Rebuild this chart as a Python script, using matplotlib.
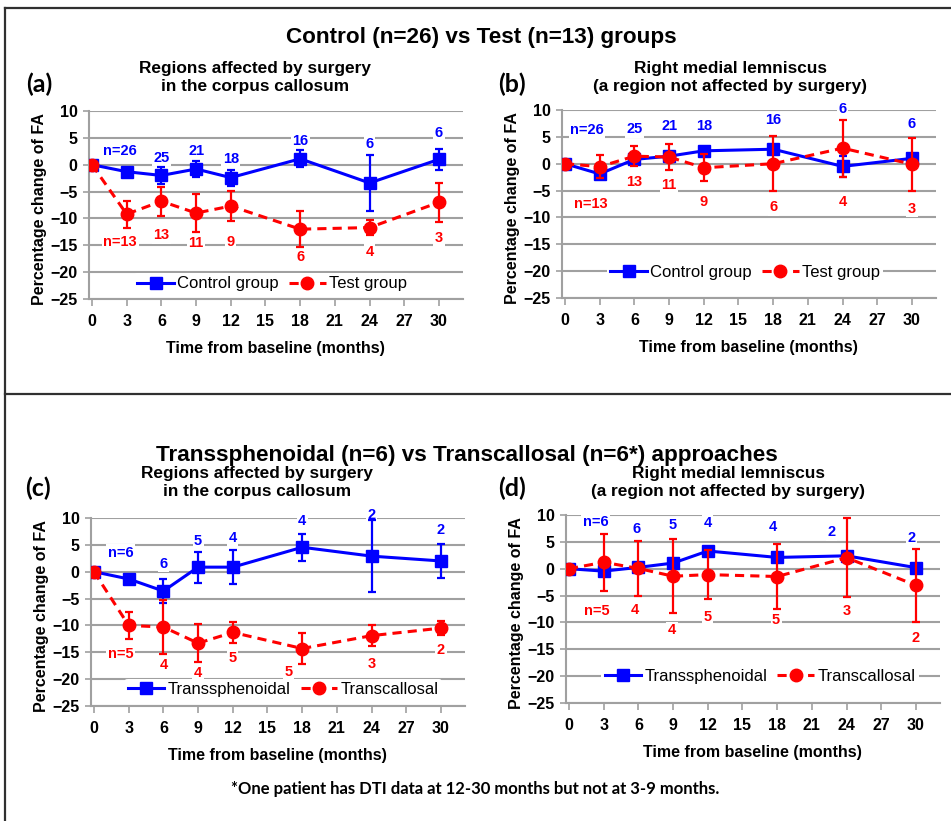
import matplotlib
matplotlib.use("Agg")
import matplotlib.pyplot as plt
from matplotlib.lines import Line2D

plt.rcParams['font.family'] = ['Liberation Sans', 'DejaVu Sans']

W, H = 951, 821

months = [0, 3, 6, 9, 12, 18, 24, 30]

# (a) corpus callosum, control vs test
a_ctrl = [0, -1.3, -2.0, -0.8, -2.4, 1.1, -3.4, 1.0]
a_ctrl_err = [0, 0.5, 1.5, 1.5, 1.5, 1.6, 5.2, 2.0]
a_test = [0, -9.2, -6.8, -9.0, -7.7, -12.0, -11.7, -7.0]
a_test_err = [0, 2.5, 2.7, 3.5, 2.8, 3.3, 1.4, 3.6]

# (b) right medial lemniscus, control vs test
b_ctrl = [0, -1.9, 0.8, 1.4, 2.4, 2.7, -0.5, 1.0]
b_ctrl_err = [0, 0.5, 0.8, 0.8, 0.8, 0.8, 1.9, 0.8]
b_test = [0, -0.55, 1.4, 1.25, -0.75, 0.0, 2.9, -0.1]
b_test_err = [0, 2.1, 1.9, 2.5, 2.5, 5.1, 5.3, 4.9]

# (c) corpus callosum, transsphenoidal vs transcallosal
c_trans = [0, -1.35, -3.6, 0.85, 0.85, 4.55, 2.9, 2.0]
c_trans_err = [0, 0.6, 2.2, 2.9, 3.2, 2.5, 6.7, 3.2]
c_call = [0, -10.0, -10.3, -13.3, -11.3, -14.3, -11.9, -10.5]
c_call_err = [0, 2.5, 5.0, 3.5, 2.0, 2.9, 1.9, 1.3]

# (d) right medial lemniscus, transsphenoidal vs transcallosal
d_trans = [0, -0.45, 0.25, 1.05, 3.3, 2.1, 2.4, 0.2]
d_trans_err = [0, 0.5, 0.5, 0.5, 0.5, 0.5, 0.5, 0.5]
d_call = [0, 1.2, 0.05, -1.4, -1.1, -1.45, 2.05, -3.1]
d_call_err = [0, 5.3, 5.2, 6.9, 4.5, 6.1, 7.3, 6.8]

# sample size labels (text, x, y)
a_ctrl_n = ['n=26', '25', '21', '18', '16', '6', '6']
a_ctrl_nx = [2.45, 6, 9, 12, 18, 24, 30]
a_ctrl_ny = [2.5, 1.3, 2.5, 1.0, 4.4, 3.8, 5.9]
a_test_n = ['n=13', '13', '11', '9', '6', '4', '3']
a_test_nx = [2.45, 6, 9, 12, 18, 24, 30]
a_test_ny = [-14.4, -13.1, -14.6, -14.3, -17.1, -16.2, -13.7]

b_ctrl_nx = [1.9, 6, 9, 12, 18, 24, 30]
b_ctrl_ny = [6.25, 6.4, 7.0, 7.0, 8.1, 10.2, 7.4]
b_test_nx = [2.2, 6, 9, 12, 18, 24, 30]
b_test_ny = [-7.5, -3.4, -3.9, -7.1, -8.1, -7.1, -8.4]

c_trans_n = ['n=6', '6', '5', '4', '4', '2', '2']
c_trans_nx = [2.3, 6, 9, 12, 18, 24, 30]
c_trans_ny = [3.5, 1.5, 5.7, 6.2, 9.4, 10.6, 7.8]
c_call_n = ['n=5', '4', '4', '5', '5', '3', '2']
c_call_nx = [2.3, 6, 9, 12, 16.8, 24, 30]
c_call_ny = [-15.4, -17.4, -18.9, -16.1, -18.6, -17.2, -14.6]

d_trans_nx = [2.3, 5.85, 9, 12, 17.6, 22.7, 29.6]
d_trans_ny = [8.7, 7.4, 8.1, 8.6, 7.7, 6.8, 5.8]
d_call_nx = [2.45, 5.7, 8.9, 12, 17.9, 24, 30]
d_call_ny = [-7.9, -7.75, -11.5, -8.9, -9.6, -7.9, -12.9]

BLUE = '#0000ff'
RED = '#ff0000'
GRID = '#a0a0a0'


def fx(x):
    return x / W


def fy(y):
    return 1 - y / H


fig = plt.figure(figsize=(W / 100, H / 100), dpi=100)


def panel(rect, y1, e1, y2, e2, n1, nx1, ny1, n2, nx2, ny2, names, leg_pos):
    ax = fig.add_axes(rect)
    ax.set_xlim(-0.3, 32.1)
    ax.set_ylim(-25, 10)
    ax.set_xticks(range(0, 31, 3))
    ax.set_yticks(range(-25, 11, 5))
    ax.yaxis.grid(True, color=GRID, lw=1.5)
    ax.set_axisbelow(True)
    for s in ['top', 'right']:
        ax.spines[s].set_visible(False)
    for s in ['left', 'bottom']:
        ax.spines[s].set_color(GRID)
        ax.spines[s].set_linewidth(1.5)
    ax.tick_params(axis='x', length=5, width=1.2, color=GRID, pad=6)
    ax.tick_params(axis='y', length=4, width=1.2, color=GRID, pad=4)
    for t in ax.get_xticklabels() + ax.get_yticklabels():
        t.set_fontweight('bold')
        t.set_fontsize(11.5)

    ax.errorbar(months, y1, yerr=e1, fmt='none', ecolor=BLUE, elinewidth=1.6,
                capsize=3, capthick=1.6, zorder=3)
    ax.plot(months, y1, color=BLUE, lw=2.2, marker='s', ms=9,
            label=names[0], zorder=4)
    ax.errorbar(months, y2, yerr=e2, fmt='none', ecolor=RED, elinewidth=1.6,
                capsize=3, capthick=1.6, zorder=5)
    ax.plot(months, y2, color=RED, lw=2.2, ls='--', dashes=(3, 2), marker='o',
            ms=9, label=names[1], zorder=6)

    for t, x, y in zip(n1, nx1, ny1):
        ax.text(x, y, t, color=BLUE, fontsize=10.5, fontweight='bold',
                ha='center', va='center', zorder=2,
                bbox=dict(facecolor='white', edgecolor='none', pad=1))
    for t, x, y in zip(n2, nx2, ny2):
        ax.text(x, y, t, color=RED, fontsize=10.5, fontweight='bold',
                ha='center', va='center', zorder=2,
                bbox=dict(facecolor='white', edgecolor='none', pad=1))

    leg = ax.legend(loc='center', bbox_to_anchor=leg_pos, ncol=2, frameon=True,
                    fontsize=12, handlelength=2.2, handletextpad=0.2,
                    columnspacing=0.6, borderpad=0.2, borderaxespad=0)
    leg.get_frame().set_facecolor('white')
    leg.get_frame().set_edgecolor('none')
    leg.get_frame().set_alpha(1)
    leg.set_zorder(7)

    ax.set_xlabel('Time from baseline (months)', fontsize=11.5, fontweight='bold')
    ax.set_ylabel('Percentage change of FA', fontsize=11.5, fontweight='bold')
    ax.xaxis.set_label_coords(0.5, -0.225)
    ax.yaxis.set_label_coords(-0.111, 0.48)
    return ax


ah = 188 / H
aw = 374.8 / W
panel([fx(88.5), fy(299), aw, ah], a_ctrl, a_ctrl_err, a_test, a_test_err,
      a_ctrl_n, a_ctrl_nx, a_ctrl_ny, a_test_n, a_test_nx, a_test_ny,
      ['Control group', 'Test group'], (0.49, 0.08))
panel([fx(561.5), fy(298), aw, ah], b_ctrl, b_ctrl_err, b_test, b_test_err,
      a_ctrl_n, b_ctrl_nx, b_ctrl_ny, a_test_n, b_test_nx, b_test_ny,
      ['Control group', 'Test group'], (0.49, 0.137))
panel([fx(90.5), fy(706), aw, ah], c_trans, c_trans_err, c_call, c_call_err,
      c_trans_n, c_trans_nx, c_trans_ny, c_call_n, c_call_nx, c_call_ny,
      ['Transsphenoidal', 'Transcallosal'], (0.514, 0.086))
panel([fx(565.5), fy(703), aw, ah], d_trans, d_trans_err, d_call, d_call_err,
      c_trans_n, d_trans_nx, d_trans_ny, c_call_n, d_call_nx, d_call_ny,
      ['Transsphenoidal', 'Transcallosal'], (0.519, 0.14))

# titles
fig.text(fx(481), fy(38), 'Control (n=26) vs Test (n=13) groups', fontsize=16.2,
         fontweight='bold', ha='center', va='center')
fig.text(fx(467), fy(455), 'Transsphenoidal (n=6) vs Transcallosal (n=6*) approaches',
         fontsize=16.2, fontweight='bold', ha='center', va='center')

subs = [(255, 77.5, 'Regions affected by surgery\nin the corpus callosum'),
        (730, 77.5, 'Right medial lemniscus\n(a region not affected by surgery)'),
        (257, 482.5, 'Regions affected by surgery\nin the corpus callosum'),
        (728, 482.5, 'Right medial lemniscus\n(a region not affected by surgery)')]
for x, y, s in subs:
    fig.text(fx(x), fy(y), s, fontsize=12.4, fontweight='bold', ha='center',
             va='center', linespacing=1.25)

letters = [(39, 84, '(a)'), (512, 84, '(b)'), (38, 488, '(c)'), (512, 488, '(d)')]
for x, y, s in letters:
    fig.text(fx(x), fy(y), s, fontsize=18, fontweight='bold', ha='center',
             va='center', family=['Lato', 'DejaVu Sans'])

fig.text(fx(475), fy(789),
         '*One patient has DTI data at 12-30 months but not at 3-9 months.',
         fontsize=12, fontweight='bold', ha='center', va='center',
         family=['Lato', 'DejaVu Sans'])

# frame around the figure
for xs, ys in [([5, W], [8, 8]), ([5, 5], [8, H]), ([5, W], [394, 394])]:
    fig.add_artist(Line2D([fx(v) for v in xs], [fy(v) for v in ys],
                          color='#303030', lw=1.6, transform=fig.transFigure))

fig.savefig('out.png', dpi=100)
